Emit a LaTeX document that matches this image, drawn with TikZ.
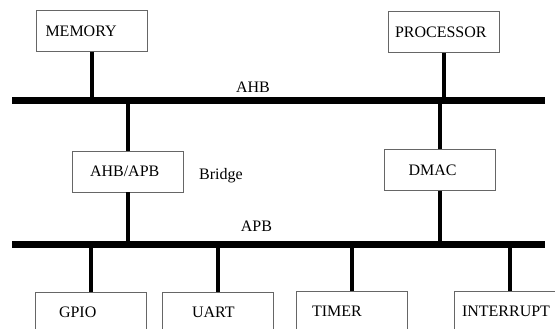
\documentclass[tikz,border=0pt]{standalone}
\usepackage{fontspec}
\setmainfont{Liberation Serif}
\usetikzlibrary{positioning,calc}
\tikzset{
  soc/box/.style={draw=black!60, line width=0.9pt, minimum height=41pt, inner ysep=0pt,
    inner xsep=#1, text width=111pt-2*#1, align=left, font=\fontsize{16}{19}\selectfont},
  soc/bus/.style={line width=7pt},
  soc/stem/.style={line width=4pt},
  soc/name/.style={font=\fontsize{16}{19}\selectfont, inner sep=0pt, anchor=base}
}

\begin{document}
\begin{tikzpicture}[x=1pt, y=-1pt]
  \useasboundingbox (0,0) rectangle (555,329);

  % masters on the AHB
  \node[soc/box=9pt] (mem) at (92,31) {MEMORY};
  \node[soc/box=7pt] (proc) at (443.5,32) {PROCESSOR};
  \coordinate (ahbL) at (12,101);
  \coordinate (ahbR) at (545,101);

  % bridge and DMA
  \node[soc/box=18pt] (bridge) at (127.5,171.5) {AHB/APB};
  \node[soc/box=24pt] (dmac) at (440,170) {DMAC};
  \coordinate (apbL) at (12,244);
  \coordinate (apbR) at (545,244);

  % peripherals on the APB
  \node[soc/box=24pt] (gpio) at (90.5,312.5) {GPIO};
  \node[soc/box=30pt] (uart) at (217.5,312.5) {UART};
  \node[soc/box=16pt] (timer) at (351.5,311.5) {TIMER};
  \node[soc/box=8pt] (intr) at (509.5,311.5) {INTERRUPT};

  \draw[soc/stem] (mem.south) -- (mem.south |- ahbL);
  \draw[soc/stem] (proc.south) -- (proc.south |- ahbL);
  \draw[soc/stem] (bridge.north) -- (bridge.north |- ahbL);
  \draw[soc/stem] (bridge.south) -- (bridge.south |- apbL);
  \draw[soc/stem] (dmac.north) -- (dmac.north |- ahbL);
  \draw[soc/stem] (dmac.south) -- (dmac.south |- apbL);
  \foreach \p in {gpio,uart,timer,intr}
    \draw[soc/stem] (\p.north) -- (\p.north |- apbL);

  \draw[soc/bus] (ahbL) -- (ahbR);
  \draw[soc/bus] (apbL) -- (apbR);

  \node[soc/name] (ahb) at (253,93) {AHB};
  \node[soc/name] (apb) at (256.5,231) {APB};
  \node[soc/name] (brname) at (221,179) {Bridge};
\end{tikzpicture}
\end{document}
